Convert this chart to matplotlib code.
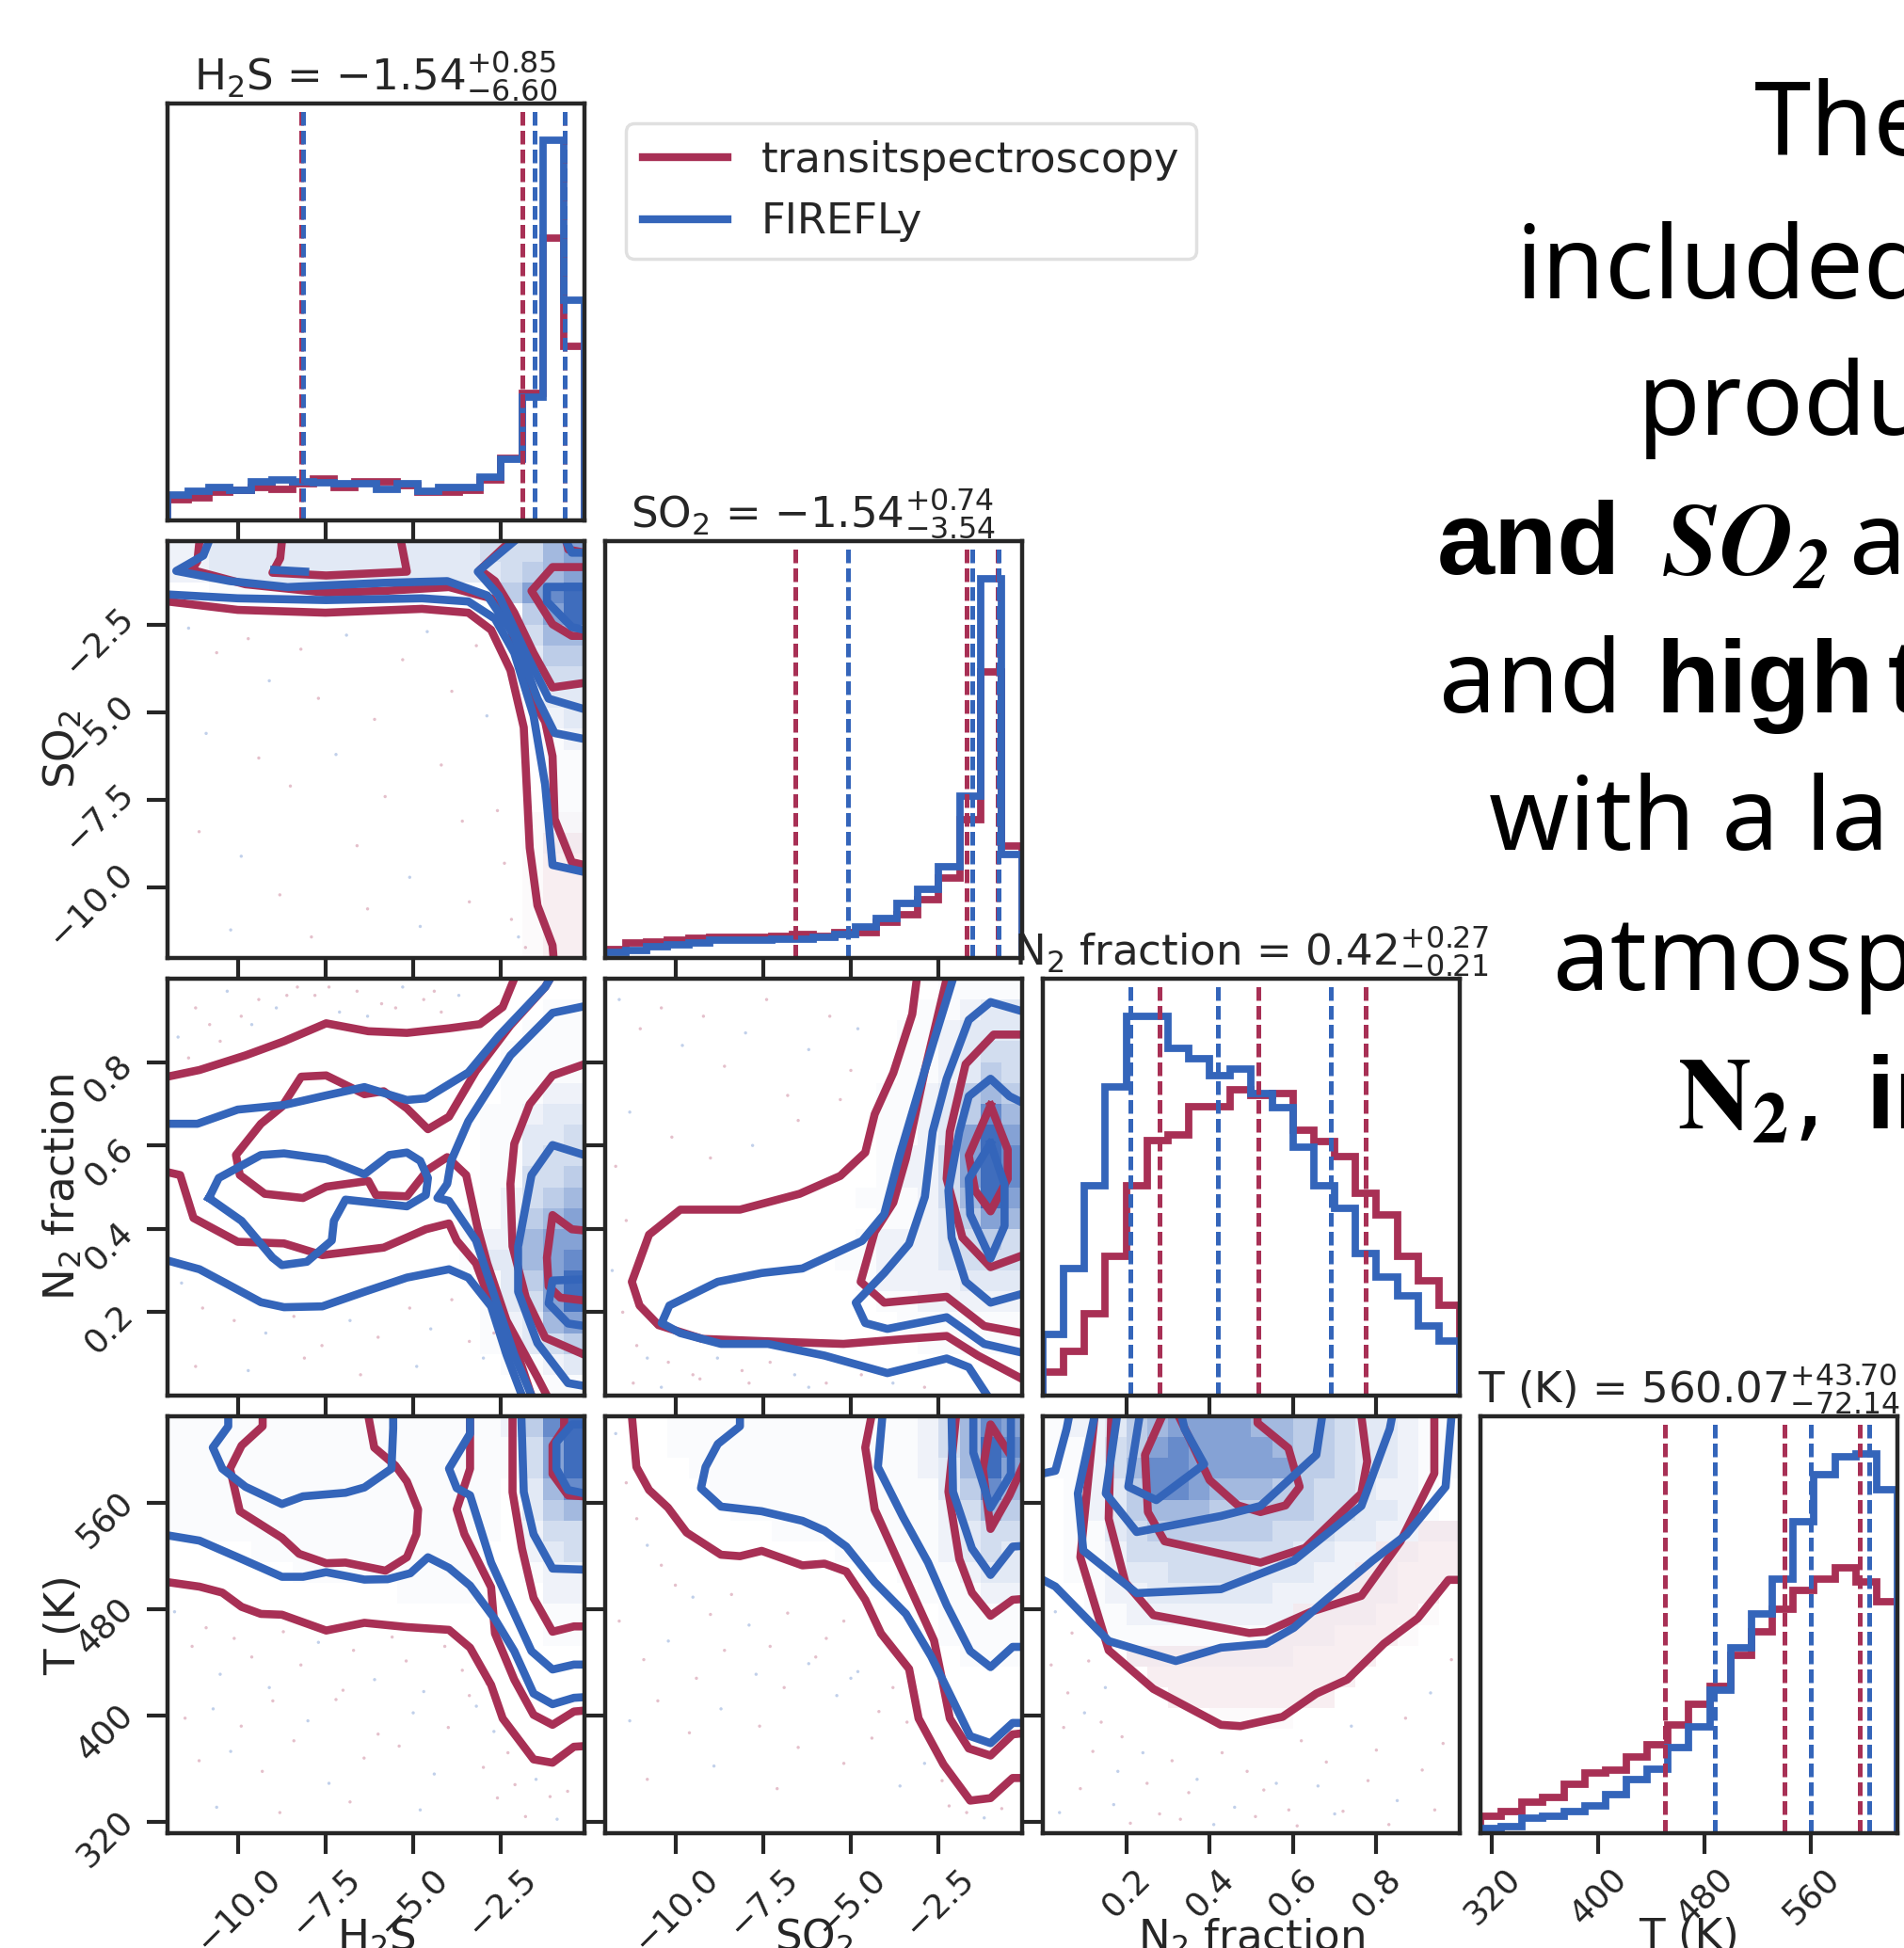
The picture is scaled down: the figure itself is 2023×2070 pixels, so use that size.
import matplotlib
matplotlib.use("Agg")
import matplotlib.pyplot as plt
from matplotlib.colors import ListedColormap, to_rgb
from matplotlib.lines import Line2D
from matplotlib.transforms import ScaledTranslation
import numpy as np

W, H = 2024, 2070
RED = "#a83055"
BLUE = "#3465ba"
INK = "#262626"

names = ["$\\mathrm{H_2S}$", "$\\mathrm{SO_2}$", "$\\mathrm{N_2}$ fraction", "T (K)"]
titles = ["$\\mathrm{H_2S}$ = $-1.54^{+0.85}_{-6.60}$",
          "$\\mathrm{SO_2}$ = $-1.54^{+0.74}_{-3.54}$",
          "$\\mathrm{N_2}$ fraction = $0.42^{+0.27}_{-0.21}$",
          "T (K) = $560.07^{+43.70}_{-72.14}$"]
limits = [(-12.0, -0.12), (-12.0, -0.12), (0.0, 1.0), (311.5, 625.0)]
ticks = [[-10.0, -7.5, -5.0, -2.5], [-10.0, -7.5, -5.0, -2.5], [0.2, 0.4, 0.6, 0.8], [320, 400, 480, 560]]
tick_labels = [["\u221210.0", "\u22127.5", "\u22125.0", "\u22122.5"], ["\u221210.0", "\u22127.5", "\u22125.0", "\u22122.5"],
               ["0.2", "0.4", "0.6", "0.8"], ["320", "400", "480", "560"]]

# histogram heights, 20 bins, as a fraction of the panel height
h2s_red = [.049, .055, .067, .073, .08, .075, .088, .099, .08, .092, .092, .084, .067, .067, .073, .097, .15, .304, .678, .418]
h2s_blue = [.062, .069, .08, .073, .092, .097, .092, .09, .088, .088, .075, .088, .071, .08, .08, .104, .147, .296, .911, .529]
so2_red = [.021, .035, .038, .042, .047, .05, .05, .05, .052, .057, .052, .061, .061, .085, .103, .141, .191, .332, .686, .269]
so2_blue = [.014, .017, .028, .031, .035, .042, .042, .042, .045, .045, .05, .057, .075, .095, .132, .165, .219, .389, .909, .248]
n2_red = [.057, .105, .197, .333, .504, .612, .625, .693, .693, .733, .721, .724, .636, .609, .574, .485, .434, .333, .276, .217]
n2_blue = [.147, .305, .504, .74, .91, .91, .833, .809, .767, .783, .724, .69, .597, .504, .45, .341, .284, .24, .166, .132]
t_red = [.04, .051, .074, .085, .117, .144, .151, .182, .213, .259, .309, .352, .426, .483, .537, .583, .61, .637, .602, .556]
t_blue = [.012, .015, .035, .04, .051, .066, .093, .128, .154, .205, .256, .344, .444, .525, .61, .748, .861, .904, .91, .823]

# quantile lines
h2s_q_red = [-8.2, -1.9, -0.69]
h2s_q_blue = [-8.14, -1.54, -0.69]
so2_q_red = [-6.58, -1.7, -0.81]
so2_q_blue = [-5.08, -1.54, -0.8]
n2_q_red = [0.28, 0.518, 0.774]
n2_q_blue = [0.21, 0.42, 0.69]
t_q_red = [450, 540, 597]
t_q_blue = [487.93, 560.07, 603.77]

# contour lines, [(x, y), ...]
so2_h2s_red = [
    ([-12, -10, -7.5, -4.75, -3.43, -2.78, -2.23, -1.85, -1.68, -1.46, -1.03, -1.0],
     [-1.84, -2.08, -2.16, -2.05, -2.16, -2.65, -3.8, -5.43, -8.86, -10.5, -11.64, -12]),
    ([-11.09, -11.15, -11.31, -9.78, -7.48, -5.84, -3.98, -2.78, -2.23, -1.79, -1.24, -1.03, -0.97, -0.48, -0.12],
     [-.12, -.69, -.94, -1.35, -1.59, -1.54, -1.43, -1.75, -2.57, -4.29, -5.27, -6.25, -8.04, -9.27, -9.35]),
    ([-8.74, -8.79, -9.01, -7.48, -5.18, -5.35], [-.12, -.61, -1.02, -1.1, -.99, -.12]),
    ([-.12, -1.03, -1.57, -2.12, -2.67, -3.1, -2.23], [-4.16, -4.29, -3.31, -2.16, -1.26, -.94, -.12]),
    ([-.12, -1.03, -1.63, -1.03, -.48, -.12], [-.86, -.86, -1.54, -2.49, -2.82, -2.82]),
    ([-.64, -.58, -.12], [-.12, -.36, -.45]),
]
so2_h2s_blue = [
    ([-12, -10, -7.48, -4.75, -3.43, -2.67, -2.12, -1.57, -1.24, -1.03, -.12],
     [-1.64, -1.75, -1.8, -1.75, -1.84, -2.33, -3.31, -5.1, -7.06, -9.35, -9.55]),
    ([-10.82, -10.98, -11.75, -10.22, -8.58, -5.84, -4.03, -2.89, -2.12, -1.46, -.97, -.12],
     [-.12, -.53, -.97, -1.26, -1.43, -1.31, -1.26, -1.67, -2.82, -4.61, -5.59, -5.76]),
    ([-2.12, -3.16, -2.56, -1.79, -1.14, -.12], [-.12, -.99, -1.67, -3.31, -4.61, -4.91]),
    ([-.12, -1.19, -1.19, -.48, -.12], [-1.43, -1.43, -1.84, -2.57, -2.65]),
    ([-.64, -.48, -.12], [-.12, -.45, -.45]),
    ([-8.96, -8.08], [-.94, -.99]),
]
n2_h2s_red = [
    ([-12, -11.09, -9.78, -8.68, -7.48, -6.28, -5.18, -3.98, -3.1, -2.45, -2.12],
     [.765, .781, .816, .85, .893, .874, .87, .881, .891, .932, 1.0]),
    ([-12, -11.64, -11.26, -10, -8.68, -7.59, -5.84, -4.64, -3.98, -3.76, -3.21, -2.67, -2.07, -1.63],
     [.536, .529, .426, .369, .365, .337, .355, .399, .413, .372, .317, .194, .112, 0]),
    ([-1.1, -1.24, -2.23, -3.21, -3.98, -4.58, -5.18, -5.84, -6.39, -7.48, -8.19, -8.74, -9.34, -10.05, -9.94, -9.23, -8.14, -7.48,
      -6.28, -6.06, -5.18, -4.58, -4.03, -3.49, -3.16, -2.89, -2.34, -1.46, -1.19],
     [1.0, .98, .888, .779, .669, .639, .689, .73, .723, .768, .765, .693, .652, .577, .529, .484, .474, .501,
      .515, .481, .478, .542, .572, .529, .4, .317, .18, .044, 0]),
    ([-.12, -1.03, -1.68, -2.12, -2.23, -2.17, -1.79, -1.24, -.12], [.795, .768, .699, .604, .508, .358, .235, .139, .098]),
    ([-.12, -.48, -1.03, -1.19, -1.14, -.81, -.12], [.396, .399, .433, .331, .262, .235, .228]),
]
n2_h2s_blue = [
    ([-12, -11.09, -10.33, -9.34, -8.68, -7.59, -6.39, -5.18, -3.98, -3.43, -2.78, -2.34, -1.9],
     [.324, .303, .269, .224, .212, .214, .249, .283, .303, .283, .214, .098, 0]),
    ([-12, -11.15, -10, -8.68, -7.48, -6.39, -5.18, -4.64, -3.43, -2.56, -1.24, -1.1],
     [.652, .652, .686, .697, .72, .74, .709, .713, .775, .863, .98, 1.0]),
    ([-10.82, -10.54, -9.34, -8.68, -7.48, -6.39, -5.68, -5.18, -4.8, -4.58, -4.64, -5.18, -5.84, -6.93, -7.26, -7.32, -8.03, -8.74, -9.01, -9.89, -10.82],
     [.474, .522, .577, .581, .567, .531, .577, .583, .563, .522, .481, .454, .46, .47, .419, .372, .321, .313, .331, .419, .474]),
    ([-.12, -1.03, -2.23, -3.43, -3.92, -4.03, -4.31, -3.98, -3.21, -2.67, -2.12, -1.63],
     [.934, .918, .816, .658, .563, .508, .474, .467, .372, .235, .098, 0]),
    ([-.12, -1.03, -1.63, -2.01, -2.01, -1.46, -.59, -.12], [.577, .601, .529, .358, .249, .126, .03, .023]),
    ([-.12, -1.03, -1.14, -.59, -.12], [.279, .276, .221, .173, .167]),
]
n2_so2_red = [
    ([-3.12, -3.25, -3.79, -4.32, -4.59, -5.3, -6.46, -8.16, -9.86, -10.75, -11.24, -11.02, -10.48, -9.23, -7, -5.21, -3.43, -2.27, -1.38, -.12],
     [1, .915, .774, .675, .583, .527, .484, .446, .446, .386, .273, .216, .169, .136, .129, .124, .136, .143, .096, .04]),
    ([-2.27, -2.89, -3.43, -3.79, -4.32, -4.72, -4.05, -2.27, -1.2, -.12], [1, .781, .569, .463, .393, .273, .223, .237, .167, .15]),
    ([-.12, -.93, -1.73, -2.18, -2.27, -1.82, -1.02, -.12], [.866, .866, .795, .633, .52, .379, .308, .336]),
    ([-1.02, -1.64, -1.46, -1.02, -.53, -.53, -1.02], [.696, .576, .492, .442, .52, .59, .696]),
]
n2_so2_blue = [
    ([-1.11, -1.64, -2.27, -3.96, -5.75, -7.36, -8.7, -9.86, -10.39, -10.17, -8.79, -7.54, -6.38, -4.68, -4.05, -3.61, -2.89, -2.09],
     [0, .068, .089, .054, .096, .124, .124, .15, .174, .216, .273, .294, .305, .371, .435, .576, .781, 1]),
    ([-.12, -1.2, -2.27, -3.96, -4.59, -4.86, -4.05, -3.34, -2.89, -2.67, -2.27, -1.64, -1.02, -.12],
     [.103, .124, .188, .16, .174, .223, .294, .364, .477, .633, .76, .901, .944, .922]),
    ([-.12, -1.02, -1.73, -2.13, -2.22, -1.91, -1.64, -1.02, -.48, -.12], [.244, .223, .273, .379, .492, .633, .718, .76, .718, .703]),
    ([-1.02, -1.64, -1.6, -1.02, -.62, -.62, -1.02], [.605, .52, .435, .329, .407, .506, .605]),
]
t_h2s_red = [
    ([-12, -11.09, -10.44, -9.89, -9.34, -8.74, -7.48, -6.39, -5.18, -3.98, -3.38, -2.78, -2.45, -1.57, -1.03, -.42, -.12],
     [500.3, 496.9, 492.4, 481.7, 476.4, 475.8, 463.9, 469.7, 466.5, 464.4, 451, 423, 397.8, 367, 364.5, 376.5, 377]),
    ([-9.29, -9.29, -9.89, -10.22, -9.94, -8.74, -8.25, -7.48, -6.93, -5.79, -5.18, -4.91, -4.86, -5.18, -5.51, -6.11, -6.28],
     [625.5, 617.5, 603, 585.6, 553.6, 533.6, 521.6, 514.5, 515, 508.9, 519, 536.3, 555, 576, 588, 601.5, 625.5]),
    ([-3.38, -3.38, -3.76, -3.54, -2.78, -2.67, -2.12, -1.57, -1.03, -.42, -.12], [625.5, 585.6, 555, 536.3, 496.4, 461.7, 427, 400.5, 393, 403, 403.7]),
    ([-2.17, -2.17, -1.9, -1.57, -1.03, -.42, -.12], [625.5, 568, 525.6, 488.4, 463, 467, 467]),
    ([-.7, -.7, -1.03, -1.03, -.59, -.12], [625.5, 616, 603, 581.6, 565.6, 564.8]),
]
t_h2s_blue = [
    ([-12, -11.09, -10, -8.74, -8.14, -7.48, -6.39, -5.73, -5.08, -4.58, -3.98, -3.38, -2.67, -2.12, -1.57, -1.03, -.42, -.12],
     [535.5, 531.5, 519, 504.3, 504.3, 507.8, 502.2, 502.5, 507, 519, 511, 497.7, 472.4, 448.4, 416.5, 408.5, 413.3, 413.8]),
    ([-10.27, -10.27, -10.71, -10.44, -9.78, -8.74, -8.14, -6.93, -6.39, -5.62, -5.57, -5.57],
     [625.5, 617.5, 601.5, 585.6, 572, 559, 564.8, 567.5, 571.5, 585.6, 616, 625.5]),
    ([-3.38, -3.38, -3.98, -3.76, -3.38, -2.78, -2.23, -1.63, -1.03, -.42, -.12], [625.5, 612, 585.6, 571, 565.6, 515, 483, 448.4, 434.6, 438.3, 438.3]),
    ([-1.92, -1.85, -1.57, -1.03, -.12], [625.5, 568, 536.3, 510.5, 509.7]),
    ([-.12, -.48, -.92, -.92, -.59, -.12], [618.9, 618.9, 605.5, 585.6, 569.6, 567]),
]
t_so2_red = [
    ([-11.24, -11.11, -10.75, -10.21, -9.68, -8.7, -8.16, -7.54, -6.38, -5.75, -5.13, -4.59, -4.14, -3.34, -3.07, -2.36, -1.6, -1.02, -.39, -.12],
     [625.5, 586.9, 569.6, 556.3, 537.6, 520.9, 519.8, 523.8, 512.9, 514.2, 508.3, 487, 461.7, 435, 397.8, 363.2, 336, 337.9, 353, 353]),
    ([-4.41, -4.59, -4.32, -3.34, -2.63, -2.36, -2.18, -1.64, -1.02, -.39, -.12], [625.5, 601.5, 555, 497.7, 456.4, 421.8, 397.8, 375.2, 369.9, 385.8, 386.6]),
    ([-2, -2.22, -1.91, -1.55, -1.02, -.39, -.12], [625.5, 568.3, 517.7, 492.4, 475, 487, 487.6]),
    ([-.53, -1.02, -1.24, -1.02, -.48, -.12], [598.9, 618.9, 585.6, 540.3, 565.6, 586.4]),
]
t_so2_blue = [
    ([-8.16, -8.16, -8.79, -9.14, -9.27, -8.7, -7.54, -6.38, -5.75, -5.13, -4.32, -3.43, -2.71, -2.09, -1.6, -1.02, -.39, -.12],
     [625.5, 617.5, 604.2, 586.9, 570.9, 557.1, 553.6, 546.4, 539, 527, 500.3, 476.4, 444.4, 411.1, 384.5, 379.2, 394.4, 394.4]),
    ([-4.1, -4.23, -3.52, -2.8, -2.27, -1.6, -1.02, -.39, -.12], [625.5, 586.9, 549.6, 515, 483, 448.4, 436.4, 451.6, 451.6]),
    ([-2.13, -2.09, -1.55, -1.02, -.39, -.12], [625.5, 568.3, 525.6, 505.7, 527, 527.5]),
    ([-1.51, -1.51, -1.02, -.44, -.44], [625.5, 597.6, 556.3, 581.6, 625.5]),
]
t_n2_red = [
    ([.124, .09, .158, .265, .427, .474, .575, .656, .73, .818, .899, .973, 1], [625, 519, 449, 420, 393, 392, 399, 416.5, 427, 454, 473, 502, 502]),
    ([.164, .158, .198, .265, .495, .535, .643, .764, .858, .939, .939], [625, 548, 500, 475.5, 462, 463, 478, 490, 531, 582, 625]),
    ([.286, .245, .252, .292, .522, .629, .764, .778, .764], [625, 596, 553, 531, 515, 526, 567, 591, 625]),
    ([.515, .515, .589, .616, .582, .522, .468, .4, .34, .326], [625, 620, 601, 572, 558, 553, 558, 577, 616, 625]),
]
t_n2_blue = [
    ([0, .03, .158, .319, .427, .535, .602, .683, .791, .872, .966, .98], [502, 497, 456, 441, 451, 454, 466, 488, 516.5, 536, 572, 625]),
    ([0, .03, .057, .063], [582, 584, 615.5, 625]),
    ([.124, .084, .097, .225, .427, .602, .764, .832, .838], [625, 567, 524, 492, 495, 516.5, 557.6, 615.5, 625]),
    ([.178, .151, .225, .427, .522, .656, .67], [625, 567, 538, 550, 557.6, 596, 625]),
    ([.232, .205, .272, .387, .34, .333], [625, 572, 562, 589, 615.5, 625]),
]

# faint samples outside the contours, a sparse reading of the speckle
so2_h2s_dots_x = [-11.4, -10.6, -9.7, -9.1, -8.2, -7.7, -6.9, -6.1, -5.3, -4.6, -3.9, -3.2, -10.9, -9.4, -8.5, -7.2, -5.8, -4.2, -2.9, -2.6,
                  -11.1, -9.9, -8.8, -6.6, -5.1, -3.6, -2.4, -10.2, -7.9, -6.3, -4.8, -3.4, -2.2, -2.0, -1.8]
so2_h2s_dots_y = [-2.6, -3.3, -2.9, -4.1, -3.2, -4.6, -2.8, -5.2, -3.5, -2.7, -4.4, -3.1, -5.6, -6.3, -7.1, -6.2, -7.4, -6.5, -5.1, -7.8,
                  -8.4, -9.1, -10.2, -8.8, -9.7, -8.1, -9.3, -11.2, -11.4, -10.6, -11.1, -10.4, -10.9, -11.4, -11.7]
n2_h2s_dots_x = [-11.7, -11.2, -10.8, -10.3, -9.9, -9.4, -8.9, -8.3, -7.8, -7.1, -6.6, -5.9, -5.3, -4.7, -4.2, -3.7, -11.4, -10.5, -9.6, -8.6,
                 -7.4, -6.3, -5.5, -4.4, -11.6, -11.0, -10.1, -9.2, -8.4, -7.6, -6.8, -6.0, -5.1, -4.5, -3.9, -3.4, -3.0, -2.7, -11.2, -9.7, -8.1, -6.5, -4.9]
n2_h2s_dots_y = [.86, .93, .89, .97, .91, .95, .93, .98, .96, .92, .97, .94, .98, .95, .92, .96, .81, .85, .89, .96,
                 .98, .91, .93, .97, .27, .21, .18, .15, .19, .12, .18, .14, .21, .16, .23, .13, .09, .15, .07, .06, .09, .05, .07]
n2_so2_dots_x = [-11.6, -11.0, -10.4, -9.8, -9.2, -8.6, -8.0, -7.4, -6.8, -6.2, -5.6, -5.0, -11.3, -10.1, -9.0, -7.8, -6.5, -5.3, -4.8, -11.7,
                 -11.4, -11.8, -11.5, -11.1, -10.8, -10.2, -9.5, -8.8, -8.1, -7.3, -6.6, -5.7, -4.7, -3.8, -2.9, -11.2, -10.4, -9.3, -7.9, -6.2]
n2_so2_dots_y = [.95, .88, .93, .84, .91, .79, .87, .95, .72, .83, .91, .78, .68, .62, .57, .6, .66, .71, .88, .55,
                 .42, .3, .2, .12, .09, .08, .05, .09, .06, .08, .05, .03, .05, .03, .02, .03, .02, .04, .03, .02]
t_h2s_dots_x = [-11.8, -11.3, -10.9, -10.5, -10.1, -9.6, -9.1, -8.7, -8.2, -7.7, -7.2, -6.7, -6.1, -5.6, -5.2, -4.7, -4.1, -3.6, -3.2, -2.9,
                -11.5, -10.7, -9.9, -9.0, -8.0, -7.0, -6.0, -5.0, -4.0, -3.4, -2.7, -2.3, -11.1, -10.2, -9.3, -8.4, -7.4, -6.4, -5.4, -4.4,
                -3.0, -2.1, -1.5, -1.1, -0.6, -10.6, -8.8, -6.8, -4.8, -2.6, -1.8, -0.9]
t_h2s_dots_y = [478, 452, 466, 431, 458, 444, 421, 463, 438, 455, 412, 449, 427, 459, 441, 418, 452, 434, 407, 424,
                398, 405, 392, 411, 396, 419, 386, 402, 391, 415, 388, 372, 366, 373, 358, 381, 349, 368, 377, 356,
                361, 348, 352, 339, 343, 331, 327, 335, 329, 338, 324, 322]
t_so2_dots_x = [-11.7, -11.4, -11.1, -10.8, -10.4, -10.0, -9.5, -9.0, -8.4, -7.9, -7.3, -6.8, -6.2, -5.7, -5.2, -4.8, -11.6, -10.9, -10.2, -9.4,
                -8.6, -7.7, -6.9, -6.0, -5.0, -4.2, -3.8, -11.3, -10.5, -9.6, -8.7, -7.6, -6.5, -5.4, -4.4, -3.4, -2.9, -2.4, -10.8, -8.9, -7.1, -5.2,
                -3.6, -2.2, -1.7, -1.2, -0.7]
t_so2_dots_y = [612, 575, 548, 528, 513, 498, 489, 476, 491, 468, 452, 477, 439, 458, 471, 433, 471, 442, 456, 428,
                449, 431, 421, 444, 428, 403, 421, 396, 411, 387, 405, 392, 376, 415, 383, 395, 364, 351, 352, 362, 345, 364,
                347, 332, 327, 323, 330]
t_n2_dots_x = [.03, .07, .11, .15, .02, .06, .1, .14, .19, .24, .05, .12, .18, .25, .31, .37, .43, .49, .56, .62,
               .68, .74, .8, .87, .93, .98, .09, .17, .28, .35, .46, .53, .59, .66, .72, .78, .85, .91, .96, .04, .21, .33,
               .41, .51, .61, .7, .83, .94]
t_n2_dots_y = [478, 462, 441, 421, 438, 417, 402, 395, 384, 372, 391, 373, 358, 349, 366, 352, 372, 358, 349, 381,
               365, 392, 374, 398, 417, 442, 345, 333, 326, 342, 331, 344, 329, 347, 328, 351, 336, 359, 379, 327, 319, 322,
               318, 324, 317, 326, 318, 329]

# 2d histogram shading, 20x20 cells, top row first, digit = shade level
so2_h2s_shade = """
22333333333333344467
22333333333333334567
00111111111111115789
00000000000000001579
00000000000000000466
00000000000000000355
00000000000000000244
00000000000000000133
00000000000000000023
00000000000000000012
00000000000000000011
00000000000000000011
00000000000000000011
00000000000000000011
00000000000000000011
00000000000000000000
00000000000000000000
00000000000000000000
00000000000000000000
00000000000000000000
""".split()
n2_h2s_shade = """
00000000000000000000
00000000000000000011
00000000000000000111
00000000000000001111
00000000000000001111
00000000000000001122
00000000000000011233
00000000000000011334
00000000000000011344
00000000000000011445
00000000000000012456
00000000000000112567
00000000000000122677
00000000000000133678
00000000000000013579
00000000000000013479
00000000000000012367
00000000000000012345
00000000000000001123
00000000000000000011
""".split()
n2_so2_shade = """
00000000000000001111
00000000000000011233
00000000000000112333
00000000000000112344
00000000000000112354
00000000000001123565
00000000000001123586
00000000000001123797
00000000000001224798
00000000000001224798
00000000000011124697
00000000000001123576
00000000000012223454
00000000000112223444
00000000000012222333
00000000000001122222
00000000000000111111
00000000000000011111
00000000000000000000
00000000000000000000
""".split()
t_h2s_shade = """
11111111111111112589
11111111111111111479
11111111111111111479
11111111111111110368
11111111111111110356
11111111111111110244
00001111111111100234
00000011111111100122
00000000000111100022
00000000000000000011
00000000000000000011
00000000000000000000
00000000000000000000
00000000000000000000
00000000000000000000
00000000000000000000
00000000000000000000
00000000000000000000
00000000000000000000
00000000000000000000
""".split()
t_so2_shade = """
00011111111111124687
00011111111111124698
00001111111111123697
00000111111111113586
00000011111111112465
00000000111111112344
00000000000111112343
00000000000000111233
00000000000000011122
00000000000000001111
00000000000000001111
00000000000000000111
00000000000000000000
00000000000000000000
00000000000000000000
00000000000000000000
00000000000000000000
00000000000000000000
00000000000000000000
00000000000000000000
""".split()
t_n2_shade = """
12235677776655433211
11245787777655433211
11246887777755433211
01235887666554432210
01235666555554433210
01134555555444332211
01124444444433221100
01123344443332211000
00122333333222111000
00112222222211110000
00011111111111000000
00001111111100000000
00000000000000000000
00000000000000000000
00000000000000000000
00000000000000000000
00000000000000000000
00000000000000000000
00000000000000000000
00000000000000000000
""".split()
# faint red shading where only the red run has samples
t_n2_shade_red = """
00000000000000000000
00000000000000000000
00000000000000000000
00000000000000000000
00000000000000000000
00000000000000000022
00000000000000002222
00000000000000022222
00000000000000222220
00000000000022222210
00000000000222222100
00002222222222220000
00000222222222200000
00000022222222000000
00000000111100000000
00000000000000000000
00000000000000000000
00000000000000000000
00000000000000000000
00000000000000000000
""".split()
so2_h2s_shade_red = """
00000000000000000000
00000000000000000000
00000000000000000000
00000000000000000000
00000000000000000000
00000000000000000000
00000000000000000000
00000000000000000000
00000000000000000000
00000000000000000000
00000000000000000000
00000000000000000000
00000000000000000000
00000000000000000111
00000000000000000122
00000000000000000122
00000000000000000122
00000000000000000122
00000000000000000122
00000000000000000122
""".split()

shade_alpha = [0, .025, .08, .14, .22, .32, .45, .6, .75, .95]

body_lines = [
    ("The", 1864, 165),
    ("included", 1611, 317),
    ("produ", 1740, 462),
    ("a", 1965, 610),
    ("and", 1529, 757),
    ("with a la", 1582, 903),
    ("atmosp", 1650, 1052),
]
body_bold = [("and", 1527, 610), ("high", 1759, 757), ("t", 2006, 757), ("in", 1982, 1199)]
body_math = [("$\\mathbfit{SO_2}$", 1766, 610), ("$\\mathbf{N_2}$,", 1782, 1199)]

plt.rcParams["font.family"] = "DejaVu Sans"
plt.rcParams["mathtext.default"] = "regular"
plt.rcParams["text.color"] = INK
plt.rcParams["axes.labelcolor"] = INK
plt.rcParams["xtick.color"] = INK
plt.rcParams["ytick.color"] = INK

fig = plt.figure(figsize=(W / 100, H / 100), dpi=100)
left = [178, 643, 1108, 1573]
top = [110, 575, 1040, 1505]
size = 443


def make_ax(row, col):
    ax = fig.add_axes([left[col] / W, 1 - (top[row] + size) / H, size / W, size / H])
    for s in ax.spines.values():
        s.set_linewidth(3.2)
        s.set_color(INK)
        s.set_zorder(10)
    ax.set_xlim(limits[col])
    ax.set_xticks(ticks[col])
    ax.tick_params(length=16, width=3, labelsize=26)
    ax.set_xticklabels([])
    return ax


def draw_hist(ax, i, red, blue, q_red, q_blue):
    edges = np.linspace(limits[i][0], limits[i][1], len(red) + 1)
    ax.stairs(red, edges, baseline=0, color=RED, lw=5.6)
    for q in q_red:
        ax.axvline(q, ymax=0.982, color=RED, lw=3.6, dashes=(2.9, 1.1))
    ax.stairs(blue, edges, baseline=0, color=BLUE, lw=5.6)
    for q in q_blue:
        ax.axvline(q, ymax=0.982, color=BLUE, lw=3.6, dashes=(2.9, 1.1))
    ax.set_ylim(0, 1)
    ax.set_yticks([])
    ax.set_title(titles[i], fontsize=32.5, pad=2)


def shade(ax, row, col, rows, colour):
    # one pcolormesh per run, the digits pick the alpha
    rgb = to_rgb(colour)
    cmap = ListedColormap([(rgb[0], rgb[1], rgb[2], a) for a in shade_alpha])
    levels = np.array([[int(c) for c in r] for r in rows[::-1]])
    xe = np.linspace(limits[col][0], limits[col][1], levels.shape[1] + 1)
    ye = np.linspace(limits[row][0], limits[row][1], levels.shape[0] + 1)
    ax.pcolormesh(xe, ye, levels, cmap=cmap, vmin=-0.5, vmax=9.5, antialiased=True, linewidth=0, zorder=1)


def draw_pair(ax, row, col, rows, red, blue, dots_x, dots_y, rows_red=None):
    if rows_red is not None:
        shade(ax, row, col, rows_red, RED)
    shade(ax, row, col, rows, BLUE)
    dot_colours = [BLUE if i % 3 == 0 else RED for i in range(len(dots_x))]
    ax.scatter(dots_x, dots_y, s=6, c=dot_colours, alpha=0.3, linewidths=0, zorder=2)
    for x, y in red:
        ax.plot(x, y, color=RED, lw=6.2, zorder=3)
    for x, y in blue:
        ax.plot(x, y, color=BLUE, lw=6.2, zorder=4)
    ax.set_xlim(limits[col])
    ax.set_ylim(limits[row])
    ax.set_yticks(ticks[row])
    ax.set_yticklabels([])


ax00 = make_ax(0, 0)
draw_hist(ax00, 0, h2s_red, h2s_blue, h2s_q_red, h2s_q_blue)
ax11 = make_ax(1, 1)
draw_hist(ax11, 1, so2_red, so2_blue, so2_q_red, so2_q_blue)
ax22 = make_ax(2, 2)
draw_hist(ax22, 2, n2_red, n2_blue, n2_q_red, n2_q_blue)
ax33 = make_ax(3, 3)
draw_hist(ax33, 3, t_red, t_blue, t_q_red, t_q_blue)

ax10 = make_ax(1, 0)
draw_pair(ax10, 1, 0, so2_h2s_shade, so2_h2s_red, so2_h2s_blue, so2_h2s_dots_x, so2_h2s_dots_y, so2_h2s_shade_red)
ax20 = make_ax(2, 0)
draw_pair(ax20, 2, 0, n2_h2s_shade, n2_h2s_red, n2_h2s_blue, n2_h2s_dots_x, n2_h2s_dots_y)
ax21 = make_ax(2, 1)
draw_pair(ax21, 2, 1, n2_so2_shade, n2_so2_red, n2_so2_blue, n2_so2_dots_x, n2_so2_dots_y)
ax30 = make_ax(3, 0)
draw_pair(ax30, 3, 0, t_h2s_shade, t_h2s_red, t_h2s_blue, t_h2s_dots_x, t_h2s_dots_y)
ax31 = make_ax(3, 1)
draw_pair(ax31, 3, 1, t_so2_shade, t_so2_red, t_so2_blue, t_so2_dots_x, t_so2_dots_y)
ax32 = make_ax(3, 2)
draw_pair(ax32, 3, 2, t_n2_shade, t_n2_red, t_n2_blue, t_n2_dots_x, t_n2_dots_y, t_n2_shade_red)

# tick labels and axis names on the outer edge only
bottom_axes = [ax30, ax31, ax32, ax33]
for i, ax in enumerate(bottom_axes):
    ax.set_xticks(ticks[i])
    ax.set_xticklabels(tick_labels[i], rotation=45, ha="center")
    ax.tick_params(axis="x", pad=6)
    ax.set_xlabel(names[i], fontsize=32.5)
    ax.xaxis.set_label_coords(0.5, -0.2)

shift = ScaledTranslation(0, -18 / 100, fig.dpi_scale_trans)
for i, ax in zip([1, 2, 3], [ax10, ax20, ax30]):
    ax.set_yticklabels(tick_labels[i], rotation=45, va="center")
    ax.tick_params(axis="y", pad=6)
    for lab in ax.get_yticklabels():
        lab.set_transform(lab.get_transform() + shift)
    ax.set_ylabel(names[i], fontsize=32.5)
    ax.yaxis.set_label_coords(-0.2, 0.5)

handles = [Line2D([], [], color=RED, lw=6), Line2D([], [], color=BLUE, lw=6)]
leg = fig.legend(handles, ["transitspectroscopy", "FIREFLy"], loc="upper left",
                 bbox_to_anchor=(665 / W, 1 - 131 / H), bbox_transform=fig.transFigure,
                 fontsize=32.3, frameon=True, edgecolor="0.85", borderaxespad=0, handlelength=2.0, handletextpad=0.8, labelspacing=0.5)
leg.get_frame().set_linewidth(2.5)

# slide text on the right, runs off the page like the source
for txt, x, y in body_lines:
    fig.text(x / W, 1 - y / H, txt, fontsize=78, family="Noto Sans", color="black", va="baseline")
for txt, x, y in body_bold:
    fig.text(x / W, 1 - y / H, txt, fontsize=79, family="Liberation Sans", weight="bold", color="black", va="baseline")
for txt, x, y in body_math:
    fig.text(x / W, 1 - y / H, txt, fontsize=78, math_fontfamily="stix", color="black", va="baseline")

fig.savefig("out.png", dpi=100)
